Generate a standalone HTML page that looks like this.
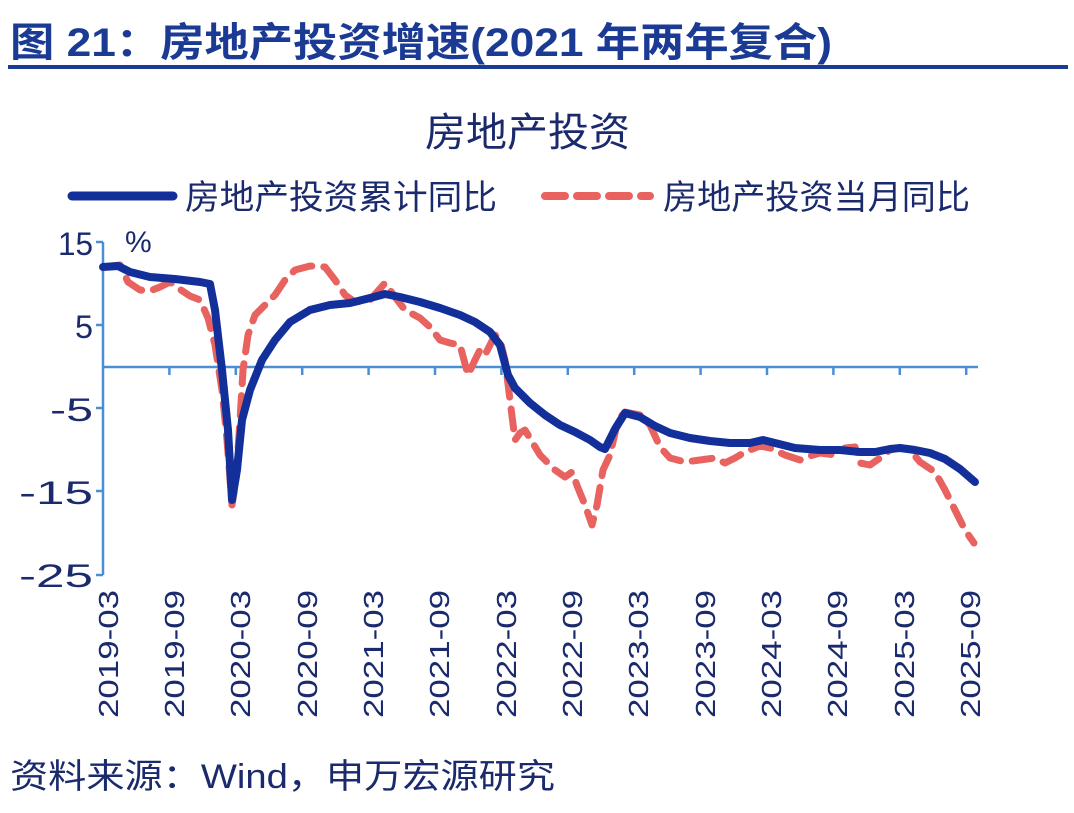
<!DOCTYPE html>
<html><head><meta charset="utf-8"><style>
html,body{margin:0;padding:0;background:#fff;}
body{width:1074px;height:808px;overflow:hidden;}
svg text{font-family:"Liberation Sans","Noto Sans CJK SC",sans-serif;}
</style></head><body>
<svg width="1074" height="808" viewBox="0 0 1074 808" xmlns="http://www.w3.org/2000/svg">
<text x="10" y="56" font-size="40" font-weight="bold" fill="#1b3a93" textLength="822" lengthAdjust="spacingAndGlyphs">图 21：房地产投资增速(2021 年两年复合)</text>
<rect x="8" y="65" width="1060" height="4" fill="#1b3a93"/>
<text x="425" y="146" font-size="40" fill="#1a2a6c" textLength="205" lengthAdjust="spacingAndGlyphs">房地产投资</text>
<line x1="72" y1="196" x2="173" y2="196" stroke="#13309a" stroke-width="9" stroke-linecap="round"/>
<text x="185" y="209" font-size="34" fill="#1a2a6c" textLength="312" lengthAdjust="spacingAndGlyphs">房地产投资累计同比</text>
<line x1="545" y1="196" x2="650" y2="196" stroke="#e8625f" stroke-width="8" stroke-dasharray="20,12" stroke-linecap="round"/>
<text x="663" y="209" font-size="34" fill="#1a2a6c" textLength="307" lengthAdjust="spacingAndGlyphs">房地产投资当月同比</text>
<g stroke="#4a8fd6" stroke-width="2.5" fill="none">
<line x1="103" y1="242" x2="103" y2="575"/>
<line x1="96" y1="242" x2="103" y2="242"/><line x1="96" y1="325" x2="103" y2="325"/><line x1="96" y1="408" x2="103" y2="408"/><line x1="96" y1="491" x2="103" y2="491"/><line x1="96" y1="575" x2="103" y2="575"/>
<line x1="103" y1="367" x2="978" y2="367"/>
<path d="M169.4 367v8M235.8 367v8M302.2 367v8M368.6 367v8M435 367v8M501.4 367v8M567.8 367v8M634.2 367v8M700.6 367v8M767 367v8M833.4 367v8M899.8 367v8M966.2 367v8"/>
</g>
<g font-size="32" fill="#1a2a6c">
<text x="58" y="255" textLength="35" lengthAdjust="spacingAndGlyphs">15</text>
<text x="75" y="338" textLength="18" lengthAdjust="spacingAndGlyphs">5</text>
<text x="50" y="421" textLength="43" lengthAdjust="spacingAndGlyphs">-5</text>
<text x="19" y="504" textLength="74" lengthAdjust="spacingAndGlyphs">-15</text>
<text x="19" y="587" textLength="74" lengthAdjust="spacingAndGlyphs">-25</text>
</g>
<text x="125" y="252" font-size="30" fill="#1a2a6c">%</text>
<g font-size="28" fill="#1a2a6c">
<text transform="translate(118,718) rotate(-90)" textLength="128" lengthAdjust="spacingAndGlyphs">2019-03</text>
<text transform="translate(184,718) rotate(-90)" textLength="128" lengthAdjust="spacingAndGlyphs">2019-09</text>
<text transform="translate(250,718) rotate(-90)" textLength="128" lengthAdjust="spacingAndGlyphs">2020-03</text>
<text transform="translate(317,718) rotate(-90)" textLength="128" lengthAdjust="spacingAndGlyphs">2020-09</text>
<text transform="translate(383,718) rotate(-90)" textLength="128" lengthAdjust="spacingAndGlyphs">2021-03</text>
<text transform="translate(449,718) rotate(-90)" textLength="128" lengthAdjust="spacingAndGlyphs">2021-09</text>
<text transform="translate(516,718) rotate(-90)" textLength="128" lengthAdjust="spacingAndGlyphs">2022-03</text>
<text transform="translate(582,718) rotate(-90)" textLength="128" lengthAdjust="spacingAndGlyphs">2022-09</text>
<text transform="translate(648,718) rotate(-90)" textLength="128" lengthAdjust="spacingAndGlyphs">2023-03</text>
<text transform="translate(715,718) rotate(-90)" textLength="128" lengthAdjust="spacingAndGlyphs">2023-09</text>
<text transform="translate(781,718) rotate(-90)" textLength="128" lengthAdjust="spacingAndGlyphs">2024-03</text>
<text transform="translate(847,718) rotate(-90)" textLength="128" lengthAdjust="spacingAndGlyphs">2024-09</text>
<text transform="translate(914,718) rotate(-90)" textLength="128" lengthAdjust="spacingAndGlyphs">2025-03</text>
<text transform="translate(980,718) rotate(-90)" textLength="128" lengthAdjust="spacingAndGlyphs">2025-09</text>
</g>
<polyline fill="none" stroke="#e8625f" stroke-width="7" stroke-dasharray="20,12" stroke-linecap="round" stroke-linejoin="round" points="103,267 120,265 128,282 140,290 150,291 160,287 170,282 178,288 190,296 200,300 208,318 215,345 222,390 227,440 232,505 236,480 240,420 243,370 248,335 255,315 265,305 275,295 285,280 295,270 310,266 325,267 335,280 345,295 355,302 370,300 385,283 395,297 405,310 420,318 430,327 440,340 450,343 460,345 468,375 475,360 480,350 485,355 495,335 500,340 505,360 510,400 515,440 520,433 525,430 540,455 555,470 565,477 572,472 578,488 585,505 592,525 597,505 603,470 610,455 618,420 625,412 640,415 650,425 660,447 670,458 685,462 700,460 715,458 725,463 735,458 745,452 760,446 770,448 785,455 800,460 810,456 820,453 835,455 845,448 855,447 860,463 870,465 880,458 890,450 900,448 910,450 920,462 935,472 945,490 955,510 965,530 974,543"/>
<polyline fill="none" stroke="#13309a" stroke-width="8" stroke-linecap="round" stroke-linejoin="round" points="103,267 118,266 130,272 150,277 175,279 200,282 210,284 215,310 222,370 228,430 232,500 237,470 242,420 250,390 262,360 275,340 290,322 310,310 330,305 350,303 370,298 385,294 400,297 420,302 440,308 460,315 475,322 490,332 500,345 508,375 515,388 530,403 545,415 560,425 575,432 590,440 600,447 605,449 615,429 625,413 640,417 655,426 670,433 690,438 710,441 730,443 750,443 763,440 775,443 795,448 820,450 840,450 860,452 875,452 890,449 900,448 915,450 930,453 945,459 960,469 975,482"/>
<text x="10" y="788" font-size="34" fill="#1a2a6c" textLength="545" lengthAdjust="spacingAndGlyphs">资料来源：Wind，申万宏源研究</text>
</svg>
</body></html>
